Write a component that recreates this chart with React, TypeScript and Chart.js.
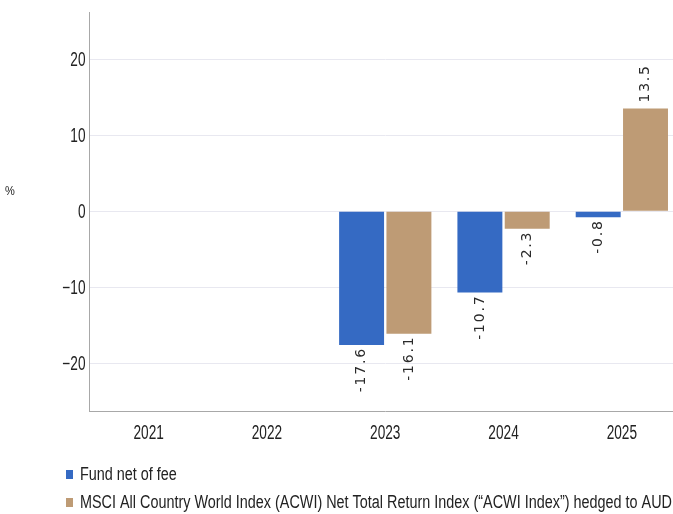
import React, { useEffect, useRef } from "react";
import { Chart, registerables } from "chart.js";

Chart.register(...registerables);

const categories = ["2021", "2022", "2023", "2024", "2025"];
const fundValues: (number | null)[] = [null, null, -17.6, -10.7, -0.8];
const indexValues: (number | null)[] = [null, null, -16.1, -2.3, 13.5];
const seriesNames = [
  "Fund net of fee",
  "MSCI All Country World Index (ACWI) Net Total Return Index (\u201CACWI Index\u201D) hedged to AUD",
];
const yTicks = [-20, -10, 0, 10, 20];
const yAxisLabel = "%";

const BLUE = "#356AC3";
const TAN = "#BE9B75";
const SANS = '"Liberation Sans", Arial, sans-serif';
const TEXT = "#222222";

// draws horizontally condensed text (the reference uses a narrow face)
function narrowText(
  ctx: CanvasRenderingContext2D,
  txt: string,
  x: number,
  y: number,
  size: number,
  sx: number,
  align: CanvasTextAlign
) {
  ctx.save();
  ctx.font = size + "px " + SANS;
  ctx.fillStyle = TEXT;
  ctx.textAlign = align;
  ctx.textBaseline = "middle";
  ctx.translate(x, y);
  ctx.scale(sx, 1);
  ctx.fillText(txt, 0, 0);
  ctx.restore();
}

const labelPlugin = {
  id: "barLabels",
  afterDatasetsDraw(chart: any) {
    const ctx = chart.ctx;
    ctx.save();
    ctx.font = '14px "DejaVu Sans", sans-serif';
    ctx.fillStyle = "#2a2a2a";
    ctx.textBaseline = "middle";
    try {
      (ctx as any).letterSpacing = "1.8px";
    } catch (e) {}
    chart.data.datasets.forEach((ds: any, di: number) => {
      const meta = chart.getDatasetMeta(di);
      meta.data.forEach((el: any, i: number) => {
        const v = ds.data[i];
        if (v === null || v === undefined) return;
        const txt = v.toFixed(1);
        ctx.save();
        if (v < 0) {
          ctx.translate(el.x, el.y + 2);
          ctx.rotate(-Math.PI / 2);
          ctx.textAlign = "right";
        } else {
          ctx.translate(el.x, el.y - 6);
          ctx.rotate(-Math.PI / 2);
          ctx.textAlign = "left";
        }
        ctx.fillText(txt, 0, 0);
        ctx.restore();
      });
    });
    ctx.restore();
  },
};

const textPlugin = {
  id: "narrowTexts",
  afterDraw(chart: any) {
    const ctx = chart.ctx as CanvasRenderingContext2D;
    const area = chart.chartArea;
    // y unit
    narrowText(ctx, yAxisLabel, 10, 191, 13, 0.85, "center");
    // y tick labels
    const ys = chart.scales.y;
    ys.ticks.forEach((t: any) => {
      const py = ys.getPixelForValue(t.value);
      const s = t.value < 0 ? "\u2212" + Math.abs(t.value) : String(t.value);
      narrowText(ctx, s, area.left - 4, py + 1, 19.5, 0.7, "right");
    });
    // x tick labels
    const xs = chart.scales.x;
    categories.forEach((c, i) => {
      const px = xs.getPixelForTick(i);
      narrowText(ctx, c, px, area.bottom + 22, 19.5, 0.7, "center");
    });
    // legend
    const rows = [475, 503];
    chart.data.datasets.forEach((ds: any, i: number) => {
      const cy = rows[i];
      ctx.save();
      ctx.fillStyle = ds.backgroundColor;
      ctx.fillRect(66, cy - 5, 7, 9);
      ctx.restore();
      narrowText(ctx, ds.label, 80, cy, 18, 0.8, "left");
    });
  },
};

export default function App() {
  const ref = useRef<HTMLCanvasElement | null>(null);
  useEffect(() => {
    if (!ref.current) return;
    const chart = new Chart(ref.current, {
      type: "bar",
      data: {
        labels: categories,
        datasets: [
          {
            label: seriesNames[0],
            data: fundValues,
            backgroundColor: BLUE,
            categoryPercentage: 0.8,
            barPercentage: 0.95,
          },
          {
            label: seriesNames[1],
            data: indexValues,
            backgroundColor: TAN,
            categoryPercentage: 0.8,
            barPercentage: 0.95,
          },
        ],
      },
      options: {
        animation: false,
        responsive: true,
        maintainAspectRatio: false,
        layout: { padding: { left: 0, right: 0, top: 12, bottom: 60 } },
        plugins: {
          tooltip: { enabled: false },
          legend: { display: false },
        },
        scales: {
          x: {
            grid: { display: false, drawTicks: false },
            border: { display: true, color: "#a8a8a8", width: 1 },
            ticks: {
              color: "rgba(0,0,0,0)",
              padding: 10,
              font: { family: SANS, size: 19 },
              maxRotation: 0,
            },
          },
          y: {
            min: -26.3,
            max: 26.2,
            afterBuildTicks: (scale: any) => {
              scale.ticks = yTicks.map((v) => ({ value: v }));
            },
            afterFit: (scale: any) => {
              scale.width = 89.5;
            },
            grid: { color: "#e8e8f0", drawTicks: false, lineWidth: 1 },
            border: { display: true, color: "#a8a8a8", width: 1 },
            ticks: {
              color: "rgba(0,0,0,0)",
              padding: 4,
              font: { family: SANS, size: 6 },
            },
          },
        },
      },
      plugins: [labelPlugin, textPlugin],
    });
    return () => chart.destroy();
  }, []);

  return (
    <div
      style={{
        position: "absolute",
        left: 0,
        top: 0,
        width: 673,
        height: 514,
        overflow: "hidden",
        background: "#ffffff",
      }}
    >
      <div style={{ position: "relative", width: 681, height: 514 }}>
        <canvas ref={ref} />
      </div>
    </div>
  );
}
